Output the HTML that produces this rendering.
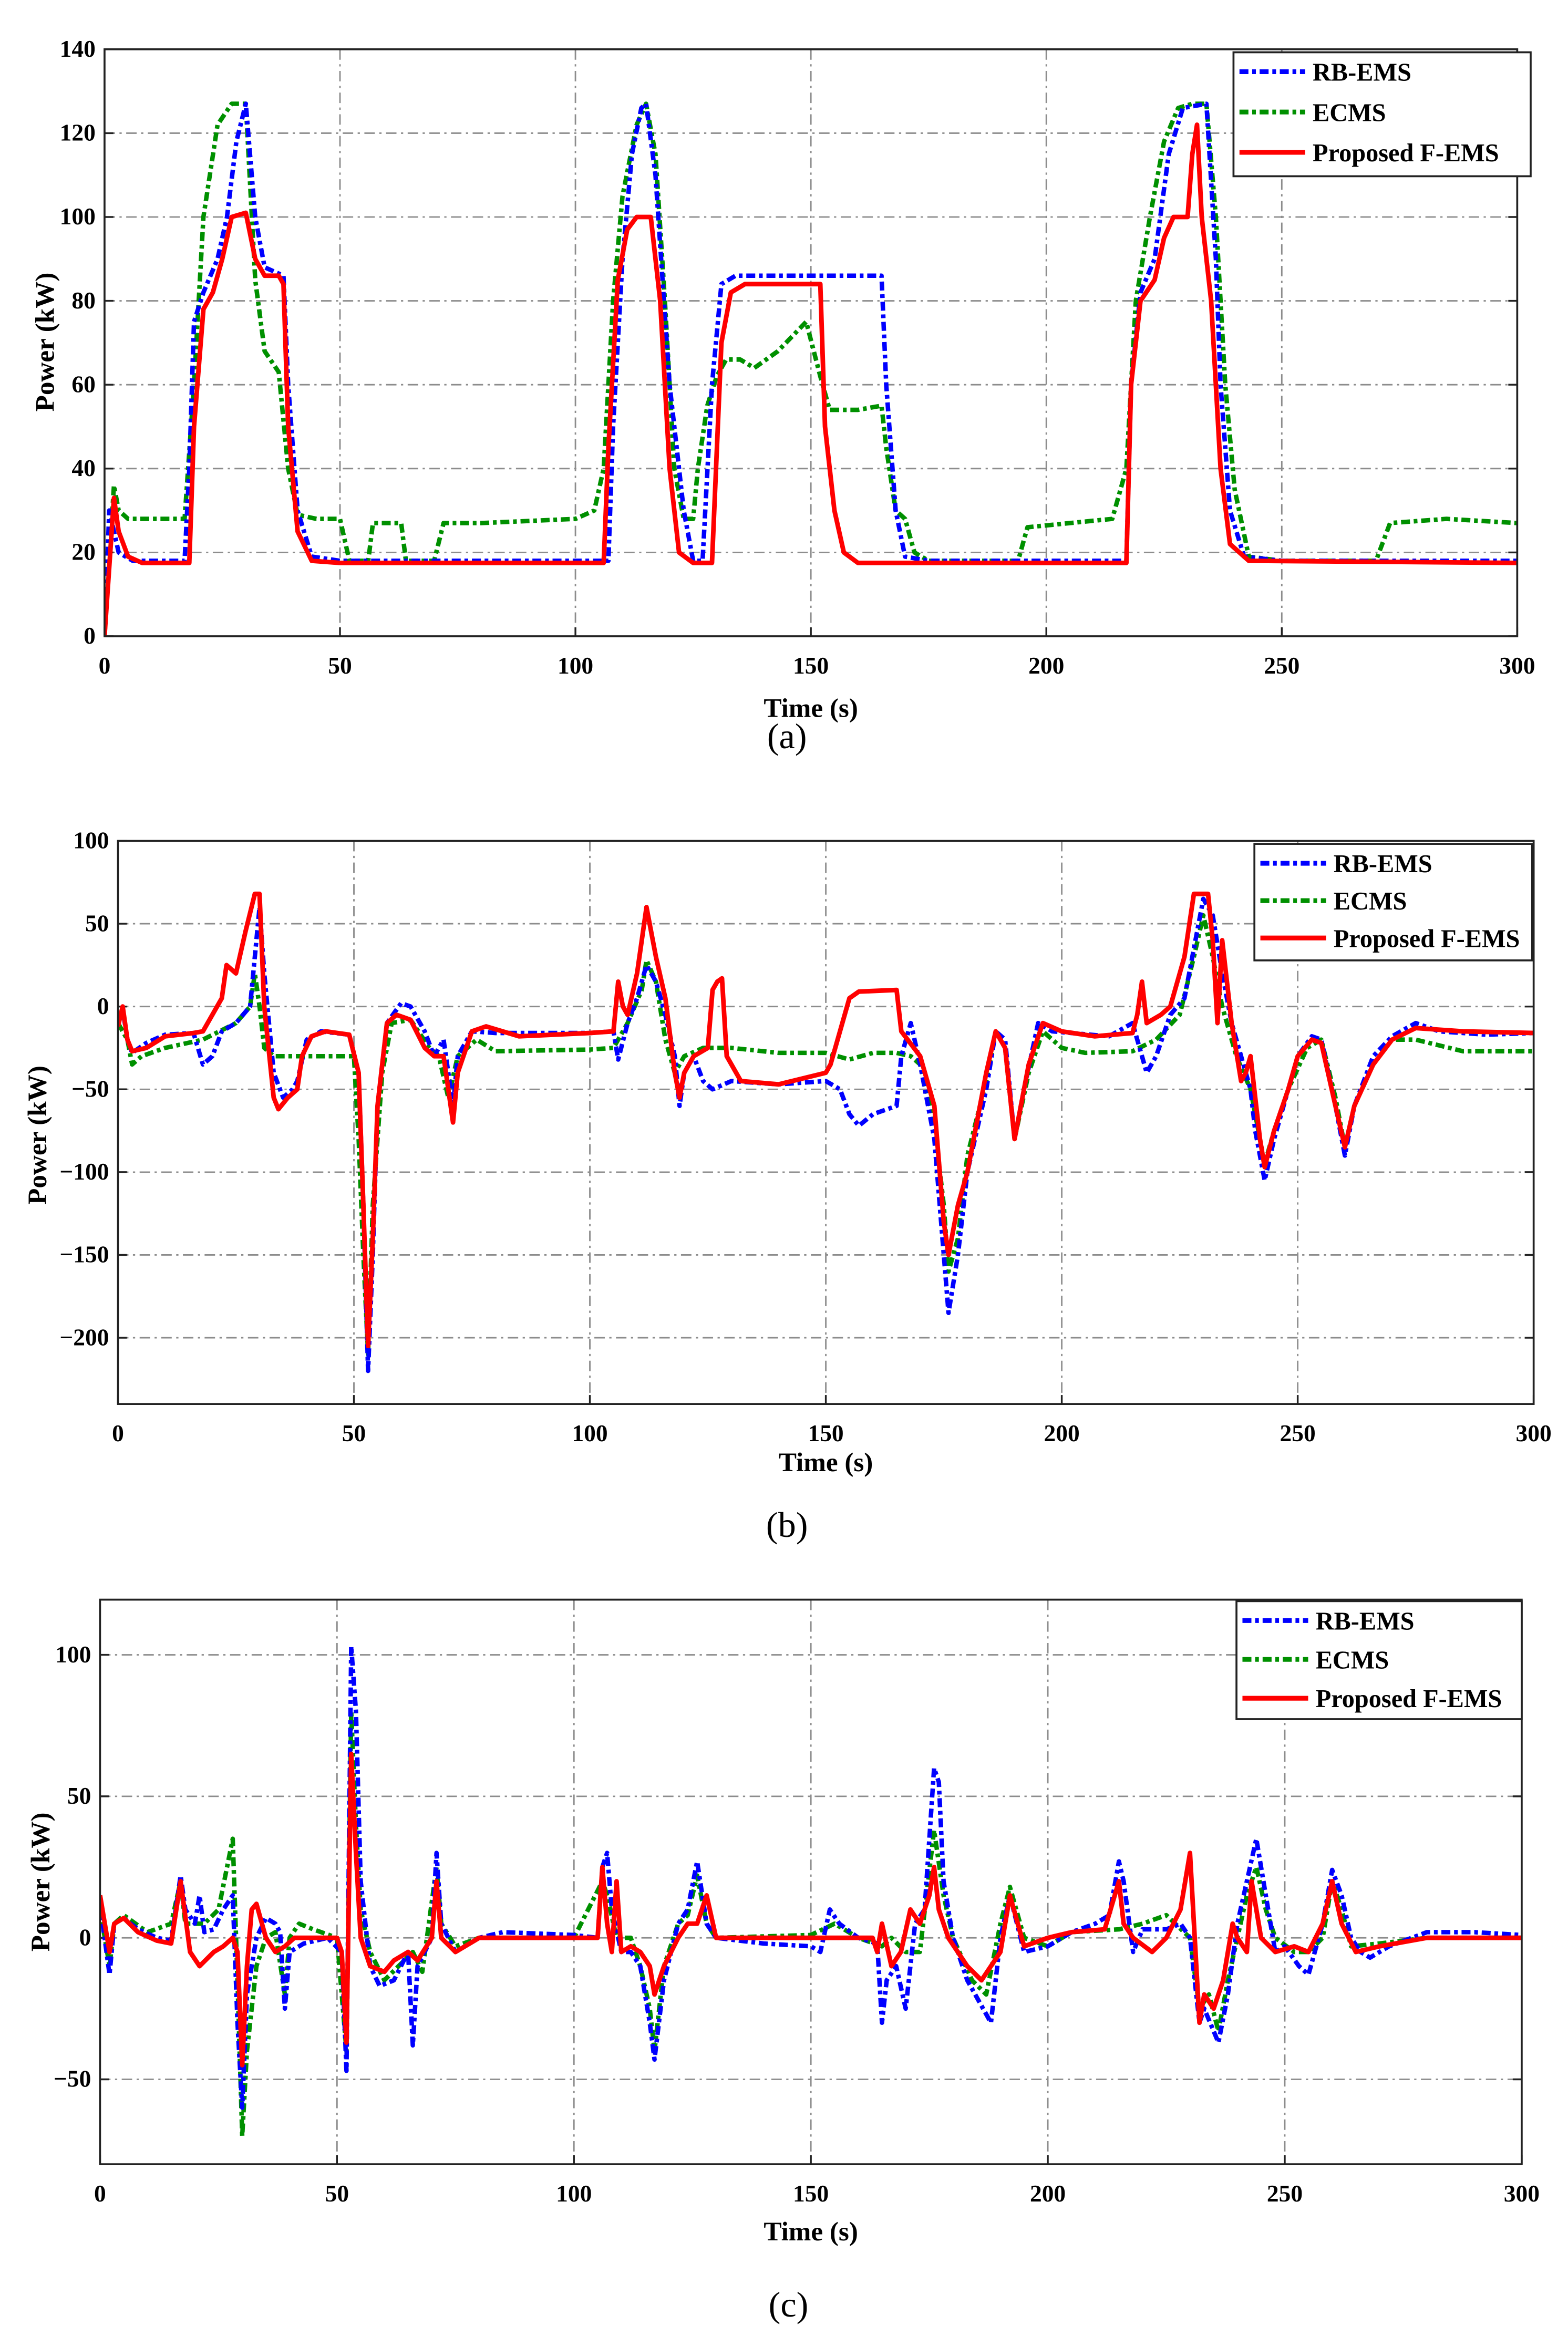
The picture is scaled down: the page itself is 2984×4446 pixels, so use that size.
<!DOCTYPE html>
<html><head><meta charset="utf-8">
<style>
html,body{margin:0;padding:0;background:#fff;}
svg{display:block;}
text{font-family:"Liberation Serif",serif;}
</style></head>
<body>
<svg id="fig" width="2984" height="4446" viewBox="0 0 1050 1564" preserveAspectRatio="none" xmlns="http://www.w3.org/2000/svg"></svg>
<script>
// ---------- Panel (a) data ----------
const aBlueT=[0,1,3,6,17,18,19,21,24,26,28,30,32,34,38,39,41,44,50,107,108,110,112,114,115,117,120,123,125,127,129,131,134,165,166,168,170,175,217,218,220,223,226,229,234,236,237,239,242,250,300];
const aBlueV=[0,30,20,18,18,40,75,82,90,100,118,127,100,88,86,60,30,19,18,18,50,90,115,126,127,110,60,30,18,18,60,84,86,86,60,30,19,18,18,60,82,90,115,126,127,90,60,30,19,18,18];
const aGreenT=[0,2,3,5,17,19,21,24,27,30,32,34,37,39,41,45,50,52,56,57,63,64,70,72,80,100,104,106,108,110,113,115,117,119,121,123,125,126,128,130,132,135,138,143,149,152,154,160,165,166,168,170,172,175,194,196,205,214,217,219,222,225,228,231,234,236,238,240,243,250,270,273,285,300];
const aGreenV=[0,36,30,28,28,60,100,122,127,127,85,68,63,40,29,28,28,18,18,27,27,18,18,27,27,28,30,40,80,105,122,127,115,80,40,28,28,40,55,62,66,66,64,68,75,62,54,54,55,45,30,28,20,18,18,26,27,28,40,80,100,118,126,127,127,100,60,35,19,18,18,27,28,27];
const aRedT=[0,2,3,5,8,18,19,21,23,25,27,30,32,34,37,38,39,41,44,50,106,107,109,111,113,116,118,120,122,125,129,131,133,136,152,153,155,157,160,217,218,220,223,225,227,230,231,232,233,235,237,239,243,300];
const aRedV=[0,33,25,19,17.5,17.5,50,78,82,90,100,101,90,86,86,84,50,25,18,17.5,17.5,45,85,97,100,100,80,40,20,17.5,17.5,70,82,84,84,50,30,20,17.5,17.5,60,80,85,95,100,100,115,122,100,80,40,22,18,17.5];
const aXTicks=[0,50,100,150,200,250,300];
const aYTicks=[0,20,40,60,80,100,120,140];
// ---------- Panel (b) data ----------
const bBlueT=[0,1,2,3,6,10,16,18,20,22,25,28,30,31,33,35,37,38,40,43,49,51,52,53,54,55,57,60,62,65,67,69,71,72,75,80,100,105,106,108,110,112,114,116,118,119,120,122,124,126,130,140,150,153,155,157,160,165,166,168,170,173,175,176,178,180,184,186,188,190,192,195,198,210,215,218,220,223,226,229,230,232,234,236,238,240,241,243,245,248,250,253,255,258,260,262,266,270,275,280,290,300];
const bBlueV=[-10,-2,-20,-28,-22,-17,-16,-35,-30,-15,-10,0,60,20,-40,-55,-50,-45,-20,-15,-17,-40,-120,-220,-150,-60,-10,2,0,-15,-30,-20,-60,-30,-15,-16,-16,-15,-32,-10,5,25,15,-5,-30,-60,-40,-30,-45,-50,-45,-47,-45,-50,-65,-72,-65,-60,-30,-10,-35,-80,-150,-185,-150,-100,-50,-15,-20,-80,-50,-10,-15,-18,-10,-40,-30,-5,5,50,65,55,20,-10,-30,-50,-75,-105,-80,-50,-30,-18,-20,-60,-90,-60,-30,-18,-10,-15,-17,-16];
const bGreenT=[0,2,3,5,10,18,25,28,29,30,31,33,36,40,45,50,51,52,53,54,56,58,62,66,68,70,72,76,80,100,105,108,111,112,114,116,118,120,124,130,140,150,155,160,165,168,170,173,175,176,178,180,184,186,188,190,193,196,200,205,215,220,225,228,230,232,234,237,240,242,243,245,248,252,255,258,260,262,266,270,275,285,300];
const bGreenV=[-10,-20,-35,-30,-25,-20,-10,0,20,0,-25,-30,-30,-30,-30,-30,-80,-150,-210,-120,-40,-10,-8,-25,-30,-55,-30,-20,-27,-26,-25,-10,10,28,15,-20,-40,-30,-25,-25,-28,-28,-32,-28,-28,-30,-35,-70,-120,-160,-140,-90,-45,-15,-25,-80,-40,-15,-25,-28,-27,-20,-5,30,55,30,0,-30,-50,-80,-95,-75,-50,-25,-20,-55,-85,-60,-35,-20,-20,-27,-27];
const bRedT=[0,1,2,3,6,10,16,18,22,23,25,27,29,30,31,33,34,36,38,39,41,44,49,51,52,53,54,55,57,59,62,65,67,69,71,72,75,78,85,100,105,106,107,108,110,111,112,114,116,118,119,120,122,125,126,127,128,129,132,140,150,151,155,157,165,166,170,173,175,176,178,180,184,186,188,190,193,196,200,207,215,216,217,218,221,223,226,228,231,232,233,234,236,238,239,240,242,243,245,248,250,253,255,258,260,262,266,270,275,285,300];
const bRedV=[-12,0,-20,-27,-25,-18,-16,-15,5,25,20,45,68,68,0,-55,-62,-55,-50,-30,-18,-15,-17,-40,-120,-205,-140,-60,-10,-5,-8,-25,-30,-30,-70,-40,-15,-12,-18,-16,-15,15,0,-5,20,40,60,30,5,-40,-55,-40,-30,-25,10,15,17,-30,-45,-47,-40,-35,5,9,10,-15,-30,-60,-130,-150,-120,-100,-40,-15,-25,-80,-35,-10,-15,-18,-16,-5,15,-10,-5,0,30,68,68,40,-10,40,-10,-45,-40,-30,-80,-97,-75,-50,-30,-20,-22,-60,-85,-60,-35,-20,-13,-15,-16];
const bXTicks=[0,50,100,150,200,250,300];
const bYTicks=[-200,-150,-100,-50,0,50,100];
// ---------- Panel (c) data ----------
const cBlueT=[0,2,3,5,8,12,15,17,18,20,21,22,24,26,28,29,30,31,33,35,37,38,39,40,43,48,51,52,53,54,55,57,59,62,65,66,67,70,71,72,75,80,85,100,105,106,107,108,110,112,114,116,117,119,122,124,126,128,130,140,150,152,154,156,160,164,165,166,168,170,172,174,176,177,178,180,183,188,190,192,195,200,205,210,213,215,216,218,220,225,228,230,232,233,236,238,240,242,244,246,248,250,253,255,258,260,262,264,266,268,272,280,290,300];
const cBlueV=[12,-13,5,7,3,0,-1,22,10,5,15,2,3,10,15,-30,-60,-20,0,7,5,2,-25,-5,-2,0,-5,-47,103,80,20,-10,-17,-15,-5,-38,-10,0,30,5,-5,0,2,1,0,25,30,10,-5,-5,-10,-30,-43,-15,5,10,27,5,0,-2,-3,-5,10,5,0,-2,-30,-15,-10,-25,5,10,60,55,20,0,-15,-30,0,15,-5,-3,2,5,8,27,20,-5,3,3,5,0,-30,-25,-37,-20,5,20,35,15,-5,-3,-10,-13,5,24,15,0,-5,-7,-3,2,2,1];
const cGreenT=[0,2,3,5,10,15,17,18,22,25,28,29,30,31,33,35,37,39,40,42,45,50,52,53,54,55,57,60,63,66,68,71,72,75,80,100,106,107,109,112,114,116,117,119,122,124,126,128,130,150,155,160,165,167,170,173,176,178,180,184,187,190,192,195,200,205,215,220,225,230,232,234,236,238,240,242,244,246,248,252,255,258,260,262,264,270,280,300];
const cGreenV=[10,-10,5,8,2,5,20,5,5,10,35,-15,-70,-40,-10,0,2,-20,0,5,3,0,-40,80,40,10,-5,-15,-10,-5,-12,25,5,-3,0,0,20,15,0,0,-10,-25,-40,-10,5,8,22,5,0,1,5,0,-3,0,-5,-5,38,15,0,-15,-20,5,18,0,-3,2,3,5,8,0,-25,-20,-33,-15,0,15,25,10,0,-5,-5,0,20,10,-3,-2,0,0];
const cRedT=[0,2,3,5,8,12,15,17,19,21,24,26,28,29,30,31,32,33,35,37,39,41,45,50,51,52,53,54,55,57,60,62,65,67,70,71,72,75,80,100,105,106,107,108,109,110,112,114,116,117,119,122,124,126,128,130,140,150,160,163,164,165,167,169,171,173,175,176,177,179,183,186,190,192,195,200,205,212,215,216,218,222,225,228,230,231,232,233,235,237,239,240,242,243,245,248,252,255,258,260,262,265,270,280,300];
const cRedV=[15,-5,5,7,2,-1,-2,20,-5,-10,-5,-3,0,-5,-45,-10,10,12,0,-5,-3,0,0,0,-5,-37,65,30,0,-10,-12,-8,-5,-8,0,20,0,-5,0,0,0,25,5,-5,20,-5,-3,-5,-10,-20,-10,0,5,5,15,0,0,0,0,0,-5,5,-10,-5,10,5,15,25,10,0,-10,-15,-5,15,-3,0,2,3,20,5,0,-5,0,10,30,0,-30,-20,-25,-15,5,0,-5,20,0,-5,-3,-5,5,20,5,-5,-3,0,0];
const cXTicks=[0,50,100,150,200,250,300];
const cYTicks=[-50,0,50,100];

const NS="http://www.w3.org/2000/svg";
const svg=document.getElementById('fig');
function mk(tag,attrs,parent){const e=document.createElementNS(NS,tag);for(const k in attrs)e.setAttribute(k,attrs[k]);(parent||svg).appendChild(e);return e;}

function panel(cfg){
  const g=mk('g',{});
  
  
  const X=t=>cfg.x0+(t-0)/(300)*(cfg.x1-cfg.x0);
  const Y=v=>cfg.y1+(v-cfg.vmin)/(cfg.vmax-cfg.vmin)*(cfg.y0-cfg.y1);
  mk('rect',{x:cfg.x0,y:cfg.y0,width:cfg.x1-cfg.x0,height:cfg.y1-cfg.y0,fill:'#fff'},g);
  cfg.xt.forEach(t=>{
    if(t>0&&t<300){const l=mk('line',{x1:X(t),x2:X(t),y1:cfg.y0,y2:cfg.y1,stroke:'#8c8c8c','stroke-width':1,'stroke-dasharray':'7,3,1.5,3'},g);
    }
    const tx=mk('text',{x:X(t),y:cfg.y1+25,'font-size':16,'font-weight':'bold','text-anchor':'middle'},g);tx.textContent=t;
    
    mk('line',{x1:X(t),x2:X(t),y1:cfg.y1,y2:cfg.y1-6,stroke:'#222','stroke-width':1.2},g);
  });
  cfg.yt.forEach(v=>{
    const y=Y(v);
    if(Math.abs(y-cfg.y0)>2&&Math.abs(y-cfg.y1)>2){const l=mk('line',{x1:cfg.x0,x2:cfg.x1,y1:y,y2:y,stroke:'#8c8c8c','stroke-width':1,'stroke-dasharray':'7,3,1.5,3'},g);
    }
    const tx=mk('text',{x:cfg.x0-6,y:y+5,'font-size':16,'font-weight':'bold','text-anchor':'end'},g);tx.textContent=(v<0?'\u2212'+(-v):v);
    
    mk('line',{x1:cfg.x0,x2:cfg.x0+6,y1:y,y2:y,stroke:'#222','stroke-width':1.2},g);
    mk('line',{x1:cfg.x1,x2:cfg.x1-6,y1:y,y2:y,stroke:'#222','stroke-width':1.2},g);
  });
  const clipId='clip'+cfg.name;
  const cp=mk('clipPath',{id:clipId},g);mk('rect',{x:cfg.x0,y:cfg.y0,width:cfg.x1-cfg.x0,height:cfg.y1-cfg.y0},cp);
  const series=[
    {t:cfg.gT,v:cfg.gV,c:'#009000',w:3,d:'6,2.5,2.5,2.5',n:'ecms-line'},
    {t:cfg.bT,v:cfg.bV,c:'#0000ff',w:3,d:'6,2.5,2.5,2.5',n:'rb-ems-line'},
    {t:cfg.rT,v:cfg.rV,c:'#ff0000',w:3.1,d:'none',n:'proposed-f-ems-line'}];
  series.forEach(s=>{
    let d='';s.t.forEach((t,i)=>{d+=(i?'L':'M')+X(t).toFixed(2)+','+Y(s.v[i]).toFixed(2);});
    const p=mk('path',{d:d,fill:'none',stroke:s.c,'stroke-width':s.w,'stroke-dasharray':s.d,'stroke-linejoin':'round','clip-path':'url(#'+clipId+')'},g);
    
  });
  const fr=mk('rect',{x:cfg.x0,y:cfg.y0,width:cfg.x1-cfg.x0,height:cfg.y1-cfg.y0,fill:'none',stroke:'#222','stroke-width':1.3},g);
  
  const xl=mk('text',{x:cfg.xlx,y:cfg.xly,'font-size':18,'font-weight':'bold','text-anchor':'middle'},g);xl.textContent='Time (s)';
  
  const yl=mk('text',{x:0,y:0,'font-size':18,'font-weight':'bold','text-anchor':'middle',transform:'translate('+cfg.ylx+','+cfg.yly+') rotate(-90)'},g);yl.textContent='Power (kW)';
  
  const cap=mk('text',{x:cfg.capx,y:cfg.capy,'font-size':24,'text-anchor':'middle'},g);cap.textContent=cfg.cap;
  
  const L=cfg.leg;
  const lg=mk('g',{},g);
  mk('rect',{x:L.x,y:L.y,width:L.w,height:L.h,fill:'#fff',stroke:'#222','stroke-width':1.3},lg);
  const items=[['RB-EMS','#0000ff','6,2.5,2.5,2.5'],['ECMS','#009000','6,2.5,2.5,2.5'],['Proposed F-EMS','#ff0000','none']];
  items.forEach((it,i)=>{
    const yy=L.y+13+i*L.dy;
    const e=mk('g',{},lg);
    mk('line',{x1:L.x+4,x2:L.x+48,y1:yy,y2:yy,stroke:it[1],'stroke-width':3.2,'stroke-dasharray':it[2]},e);
    const t=mk('text',{x:L.x+53,y:yy+6,'font-size':17,'font-weight':'bold'},e);t.textContent=it[0];
  });
}
panel({name:'panel-a',x0:70,x1:1016,y0:33,y1:426,vmin:0,vmax:140,xt:aXTicks,yt:aYTicks,
  bT:aBlueT,bV:aBlueV,gT:aGreenT,gV:aGreenV,rT:aRedT,rV:aRedV,
  xlx:543,xly:480,ylx:36,yly:229,cap:'(a)',capx:527,capy:501,leg:{x:826,y:35,w:199,h:83,dy:27}});
panel({name:'panel-b',x0:79,x1:1027,y0:563,y1:940,vmin:-240,vmax:100,xt:bXTicks,yt:bYTicks,
  bT:bBlueT,bV:bBlueV,gT:bGreenT,gV:bGreenV,rT:bRedT,rV:bRedV,
  xlx:553,xly:985,ylx:31,yly:760,cap:'(b)',capx:527,capy:1029,leg:{x:840,y:565,w:186,h:78,dy:25}});
panel({name:'panel-c',x0:67,x1:1019,y0:1071,y1:1449,vmin:-80,vmax:119.5,xt:cXTicks,yt:cYTicks,
  bT:cBlueT,bV:cBlueV,gT:cGreenT,gV:cGreenV,rT:cRedT,rV:cRedV,
  xlx:543,xly:1500,ylx:33,yly:1260,cap:'(c)',capx:528,capy:1551,leg:{x:828,y:1072,w:191,h:79,dy:26}});
</script>
</body></html>
